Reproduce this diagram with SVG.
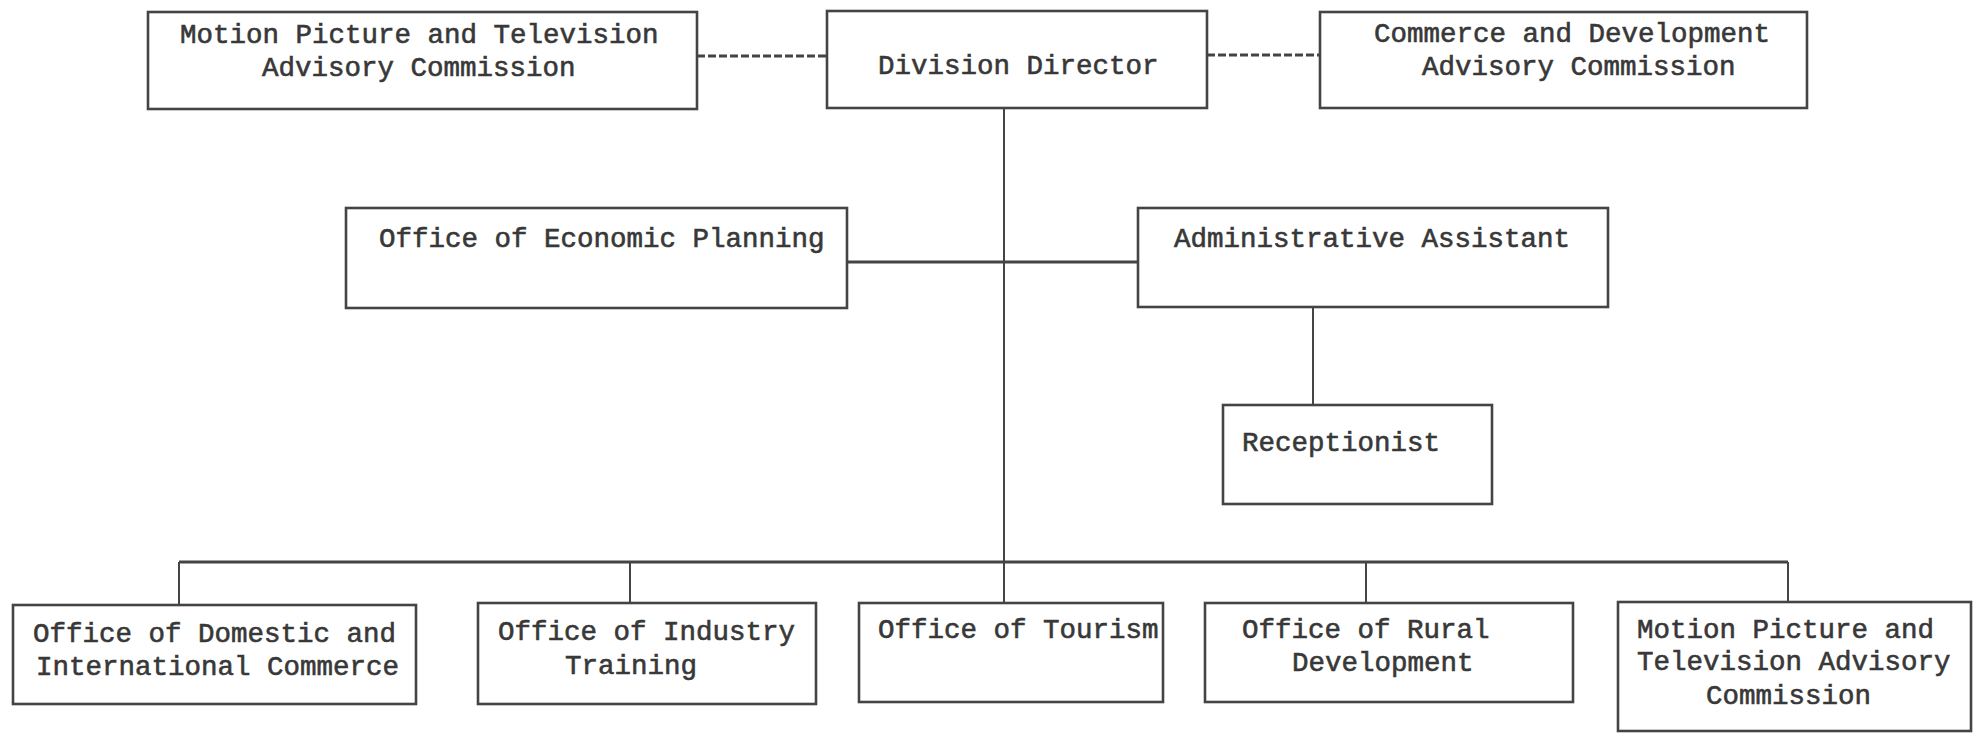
<svg xmlns="http://www.w3.org/2000/svg" width="1981" height="733" viewBox="0 0 1981 733">
<style>
  .box { fill: #ffffff; stroke: #444444; stroke-width: 2.6; }
  .t { font-family: "Liberation Mono", "Courier New", monospace; font-size: 27.5px; fill: #383838; stroke: #383838; stroke-width: 0.6; }
  .ln { fill: none; stroke: #444444; stroke-width: 2; }
  .bus { fill: none; stroke: #444444; stroke-width: 3; }
  .dash { fill: none; stroke: #444444; stroke-width: 3; stroke-dasharray: 8 3; }
</style>
<rect x="0" y="0" width="1981" height="733" fill="#ffffff"/>
<g id="connectors">
  <line class="dash" x1="697" y1="56" x2="827" y2="56"/>
  <line class="dash" x1="1207" y1="55" x2="1320" y2="55"/>
  <line class="ln" x1="1004" y1="108" x2="1004" y2="603"/>
  <line class="bus" x1="847" y1="262" x2="1138" y2="262"/>
  <line class="ln" x1="1313" y1="307" x2="1313" y2="405"/>
  <line class="bus" x1="179" y1="562" x2="1788" y2="562"/>
  <line class="ln" x1="179" y1="562" x2="179" y2="605"/>
  <line class="ln" x1="630" y1="562" x2="630" y2="603"/>
  <line class="ln" x1="1366" y1="562" x2="1366" y2="603"/>
  <line class="ln" x1="1788" y1="562" x2="1788" y2="602"/>
</g>
<g id="motion-picture-top">
  <rect class="box" x="148" y="12" width="549" height="97"/>
  <text class="t" x="180" y="43">Motion Picture and Television</text>
  <text class="t" x="262" y="76">Advisory Commission</text>
</g>
<g id="division-director">
  <rect class="box" x="827" y="11" width="380" height="97"/>
  <text class="t" x="878" y="74">Division Director</text>
</g>
<g id="commerce-development">
  <rect class="box" x="1320" y="12" width="487" height="96"/>
  <text class="t" x="1374" y="42">Commerce and Development</text>
  <text class="t" x="1422" y="75">Advisory Commission</text>
</g>
<g id="economic-planning">
  <rect class="box" x="346" y="208" width="501" height="100"/>
  <text class="t" x="379" y="247">Office of Economic Planning</text>
</g>
<g id="administrative-assistant">
  <rect class="box" x="1138" y="208" width="470" height="99"/>
  <text class="t" x="1174" y="247">Administrative Assistant</text>
</g>
<g id="receptionist">
  <rect class="box" x="1223" y="405" width="269" height="99"/>
  <text class="t" x="1242" y="451">Receptionist</text>
</g>
<g id="domestic-international">
  <rect class="box" x="13" y="605" width="403" height="99"/>
  <text class="t" x="33" y="642">Office of Domestic and</text>
  <text class="t" x="36" y="675">International Commerce</text>
</g>
<g id="industry-training">
  <rect class="box" x="478" y="603" width="338" height="101"/>
  <text class="t" x="498" y="640">Office of Industry</text>
  <text class="t" x="565" y="674">Training</text>
</g>
<g id="tourism">
  <rect class="box" x="859" y="603" width="304" height="99"/>
  <text class="t" x="878" y="638">Office of Tourism</text>
</g>
<g id="rural-development">
  <rect class="box" x="1205" y="603" width="368" height="99"/>
  <text class="t" x="1242" y="638">Office of Rural</text>
  <text class="t" x="1292" y="671">Development</text>
</g>
<g id="motion-picture-bottom">
  <rect class="box" x="1618" y="602" width="353" height="129"/>
  <text class="t" x="1637" y="638">Motion Picture and</text>
  <text class="t" x="1637" y="670">Television Advisory</text>
  <text class="t" x="1706" y="704">Commission</text>
</g>
</svg>
